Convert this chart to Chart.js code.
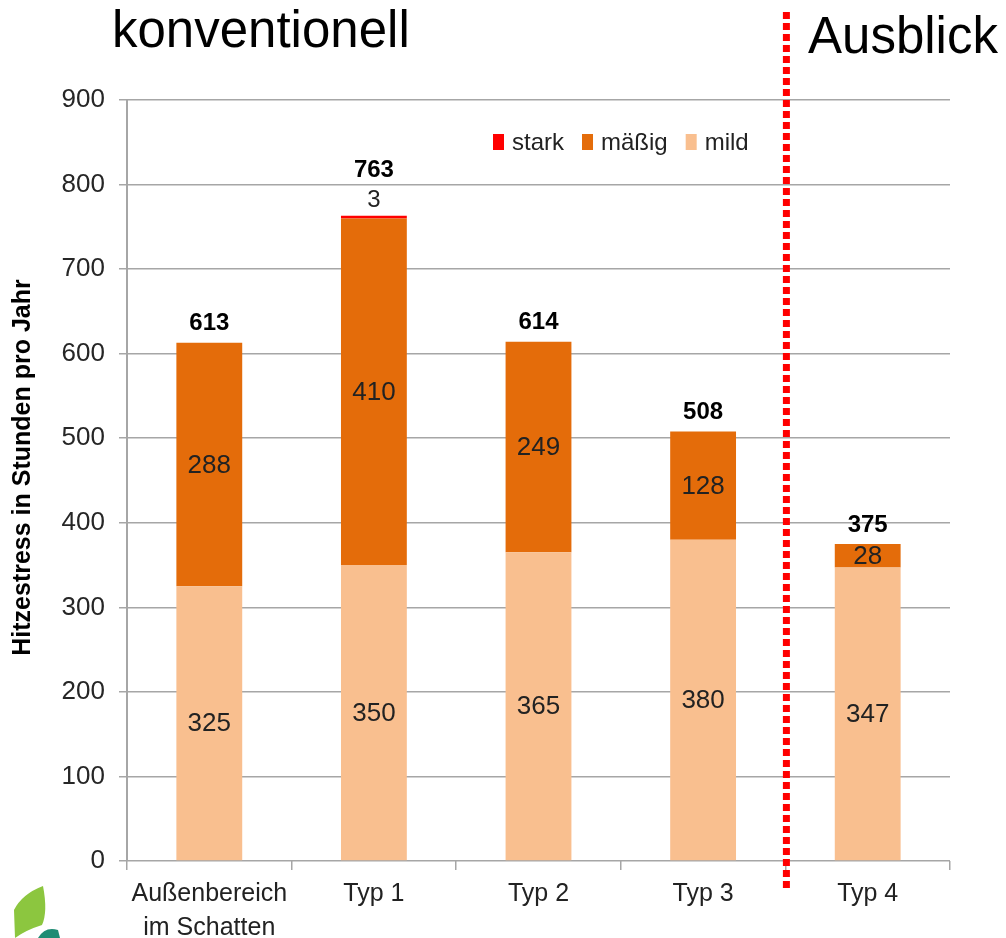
<!DOCTYPE html>
<html lang="de">
<head>
<meta charset="UTF-8">
<title>Hitzestress in Stunden pro Jahr</title>
<script src="https://cdn.jsdelivr.net/npm/chart.js"></script>
<style>
  body { margin: 0; background: #fff; }
  #wrap { width: 1006px; height: 938px; }
</style>
</head>
<body>
<div id="wrap"><canvas id="myChart" width="1006" height="938"></canvas></div>
<script>
const categories = [['Außenbereich', 'im Schatten'], 'Typ 1', 'Typ 2', 'Typ 3', 'Typ 4'];
const mild = [325, 350, 365, 380, 347];
const maessig = [288, 410, 249, 128, 28];
const stark = [0, 3, 0, 0, 0];
const yMax = 900;
const yStep = 100;

const FONT = "'Liberation Sans', Arial, sans-serif";
const totals = mild.map((v, i) => v + maessig[i] + stark[i]);

// Titel, Trennlinie, Legende und Werte direkt auf den Canvas zeichnen
const overlay = {
    id: 'overlay',
    afterDatasetsDraw(chart) {
        const ctx = chart.ctx;
        const y = chart.scales.y;
        ctx.save();
        ctx.textAlign = 'center';
        ctx.textBaseline = 'middle';

        // Segmentwerte innerhalb der Balken
        ctx.font = '26px ' + FONT;
        ctx.fillStyle = '#222';
        [0, 1].forEach(di => {
            chart.getDatasetMeta(di).data.forEach((bar, j) => {
                const v = chart.data.datasets[di].data[j];
                if (!v) return;
                ctx.fillText(v, bar.x, (bar.y + bar.base) / 2 + 1);
            });
        });

        // Summen über den Balken, bei "stark" dessen Wert dazwischen
        const starkMeta = chart.getDatasetMeta(2);
        totals.forEach((t, j) => {
            const x = starkMeta.data[j].x;
            const top = y.getPixelForValue(t);
            let off = 19;
            if (stark[j] > 0) {
                ctx.font = '24px ' + FONT;
                ctx.fillStyle = '#222';
                ctx.fillText(stark[j], x, top - 15);
                off = 45;
            }
            ctx.font = 'bold 24px ' + FONT;
            ctx.fillStyle = '#000';
            ctx.fillText(t, x, top - off);
        });
        ctx.restore();
    },
    afterDraw(chart) {
        const ctx = chart.ctx;
        const xs = chart.scales.x;
        const area = chart.chartArea;
        ctx.save();

        // rote gepunktete Trennlinie zwischen Typ 3 und Typ 4
        const sepX = (xs.getPixelForValue(3) + xs.getPixelForValue(4)) / 2 + 1;
        ctx.strokeStyle = '#ff0000';
        ctx.lineWidth = 7;
        ctx.setLineDash([7, 4]);
        ctx.beginPath();
        ctx.moveTo(sepX, 12);
        ctx.lineTo(sepX, 890);
        ctx.stroke();
        ctx.setLineDash([]);

        // Überschriften
        ctx.fillStyle = '#000';
        ctx.font = '51px ' + FONT;
        ctx.textAlign = 'left';
        ctx.textBaseline = 'alphabetic';
        ctx.fillText('konventionell', 112, 47);
        ctx.fillText('Ausblick', 808, 53);

        // Achsentitel, senkrecht
        ctx.save();
        ctx.translate(23, (area.top + area.bottom) / 2 - 13);
        ctx.rotate(-Math.PI / 2);
        ctx.textAlign = 'center';
        ctx.textBaseline = 'middle';
        ctx.font = 'bold 25px ' + FONT;
        ctx.fillText('Hitzestress in Stunden pro Jahr', 0, 0);
        ctx.restore();

        // Legende (Reihenfolge von oben nach unten im Stapel)
        ctx.font = '24px ' + FONT;
        let lx = 493;
        [2, 1, 0].forEach(di => {
            const ds = chart.data.datasets[di];
            ctx.fillStyle = ds.backgroundColor;
            ctx.fillRect(lx, 134, 11, 16);
            ctx.fillStyle = '#222';
            ctx.fillText(ds.label, lx + 19, 150);
            lx += 19 + ctx.measureText(ds.label).width + 18;
        });

        // Logo-Blatt unten links
        ctx.fillStyle = '#8cc63f';
        ctx.beginPath();
        ctx.moveTo(14, 910);
        ctx.quadraticCurveTo(22, 894, 43, 886);
        ctx.quadraticCurveTo(48, 912, 42, 925);
        ctx.quadraticCurveTo(26, 930, 15, 938);
        ctx.closePath();
        ctx.fill();
        ctx.fillStyle = '#1f8c74';
        ctx.beginPath();
        ctx.moveTo(38, 938);
        ctx.quadraticCurveTo(45, 926, 58, 930);
        ctx.lineTo(60, 938);
        ctx.closePath();
        ctx.fill();
        ctx.restore();
    }
};

const ctx = document.getElementById('myChart').getContext('2d');
const myChart = new Chart(ctx, {
    type: 'bar',
    data: {
        labels: categories,
        datasets: [
            { label: 'mild', data: mild, backgroundColor: '#f9bf8f' },
            { label: 'mäßig', data: maessig, backgroundColor: '#e46c0a' },
            { label: 'stark', data: stark, backgroundColor: '#ff0000' }
        ]
    },
    options: {
        responsive: false,
        animation: false,
        layout: { padding: { left: 0, right: 56, top: 100, bottom: 0 } },
        datasets: { bar: { barPercentage: 0.4, categoryPercentage: 1.0 } },
        plugins: {
            legend: { display: false },
            tooltip: { enabled: false }
        },
        scales: {
            x: {
                stacked: true,
                grid: { drawOnChartArea: false, drawTicks: true, tickLength: 9, color: '#a6a6a6', lineWidth: 1.5 },
                border: { display: false },
                ticks: {
                    color: '#222',
                    padding: 7,
                    maxRotation: 0,
                    font: { family: FONT, size: 25, lineHeight: 1.35 }
                },
                afterFit(scale) { scale.height = 77; }
            },
            y: {
                stacked: true,
                min: 0,
                max: yMax,
                grid: { color: '#a6a6a6', lineWidth: 1.5, tickLength: 8 },
                border: { color: '#a6a6a6', width: 2 },
                ticks: {
                    stepSize: yStep,
                    color: '#262626',
                    padding: 14,
                    font: { family: FONT, size: 26 }
                },
                afterFit(scale) { scale.width = 127; }
            }
        }
    },
    plugins: [overlay]
});
</script>
</body>
</html>
